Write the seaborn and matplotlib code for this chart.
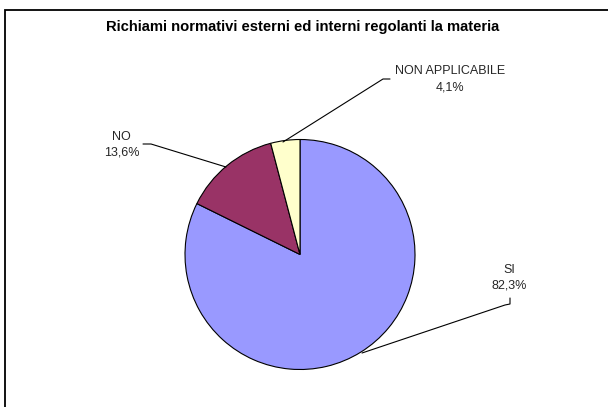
import matplotlib
matplotlib.use("Agg")
import matplotlib.pyplot as plt
import seaborn as sns
from matplotlib.patches import Rectangle

sns.set_style("white")
plt.rcParams['font.family'] = ['Liberation Sans', 'DejaVu Sans']

categories = ["SI", "NO", "NON APPLICABILE"]
values = [82.3, 13.6, 4.1]
value_labels = ["82,3%", "13,6%", "4,1%"]
colors = ["#9999FF", "#993366", "#FFFFCC"]
title = "Richiami normativi esterni ed interni regolanti la materia"

W, H = 608, 407
fig = plt.figure(figsize=(W / 100, H / 100), dpi=100)
ax = fig.add_axes([0, 0, 1, 1])
ax.set_xlim(0, W)
ax.set_ylim(0, H)
ax.set_aspect('equal')
ax.axis('off')

def Y(py):
    return H - py

cx, cy, r = 300, 254.5, 115
ax.pie(values, colors=colors, startangle=90, counterclock=False,
       center=(cx, Y(cy)), radius=r, frame=True,
       wedgeprops=dict(edgecolor='black', linewidth=0.8))
ax.set_xlim(0, W)
ax.set_ylim(0, H)
ax.axis('off')

# border of chart area
fig.patches.append(Rectangle((5 / W, 0 - 0.01), 1.2, (H - 10) / H + 0.01,
                             transform=fig.transFigure, fill=False,
                             edgecolor='black', linewidth=1.3))

ax.text(303, Y(27), title, ha='center', va='center', fontsize=10.6,
        fontweight='bold', color='black')

fs = 9
# NON APPLICABILE
ax.plot([283, 383, 390], [Y(142), Y(79), Y(79)], color='black', lw=0.8)
ax.text(450, Y(71), categories[2], ha='center', va='center', fontsize=fs)
ax.text(450, Y(88), value_labels[2], ha='center', va='center', fontsize=fs)
# NO
ax.plot([226, 151, 143], [Y(167), Y(144), Y(144)], color='black', lw=0.8)
ax.text(121, Y(136.5), categories[1], ha='center', va='center', fontsize=fs)
ax.text(122, Y(152.5), value_labels[1], ha='center', va='center', fontsize=fs)
# SI
ax.plot([362, 505, 510, 510], [Y(353), Y(305), Y(304), Y(298)], color='black', lw=0.8)
ax.text(509, Y(270), categories[0], ha='center', va='center', fontsize=fs)
ax.text(509, Y(286), value_labels[0], ha='center', va='center', fontsize=fs)

fig.savefig("out.png", dpi=100)
